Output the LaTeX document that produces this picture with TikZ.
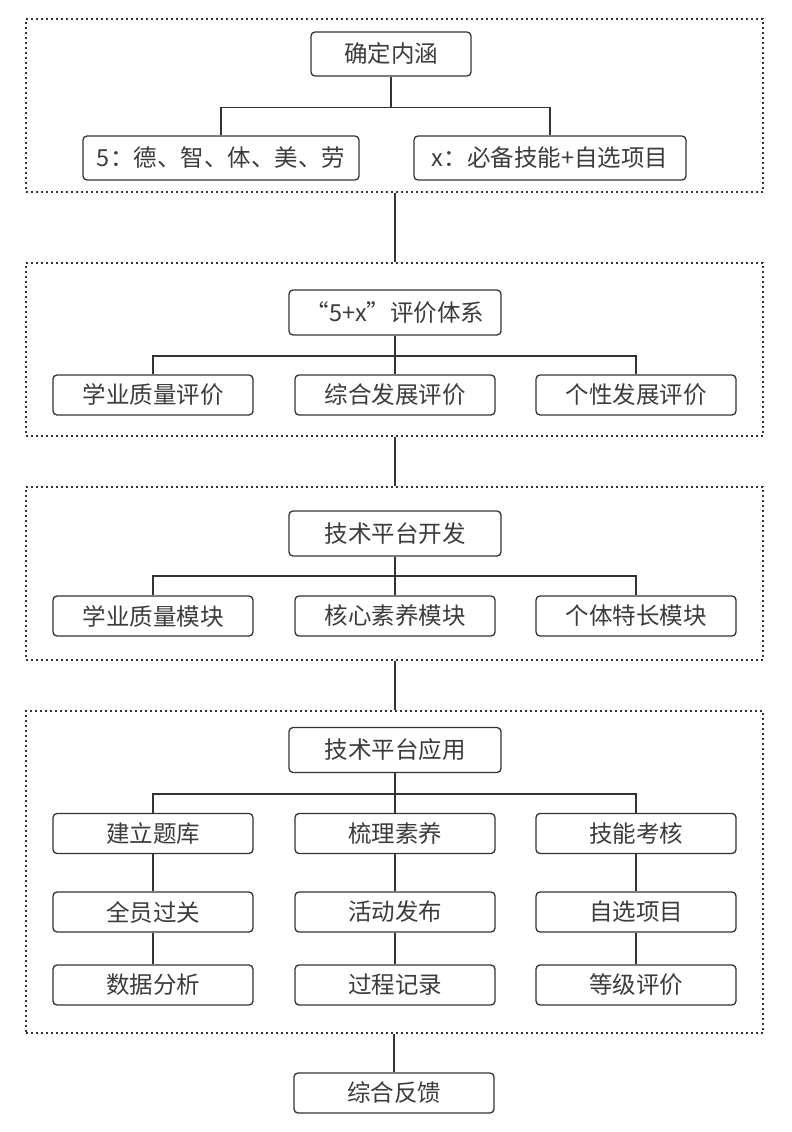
\documentclass[tikz,border=0pt]{standalone}
\usepackage{fontspec}
\newfontfamily\cjk{Noto Sans CJK SC}
\definecolor{ink}{HTML}{333333}
\definecolor{txt}{HTML}{3C3C3C}
\begin{document}
\begin{tikzpicture}[x=1pt,y=-1pt,
  box/.style={draw=ink,line width=1.3pt,rounded corners=4pt,fill=white,inner sep=0pt,
    minimum height=40pt,minimum width=200pt,font=\cjk\fontsize{23.5}{27}\selectfont,text=txt},
  head/.style={box,minimum width=212pt,minimum height=45pt},
  cont/.style={draw=ink,line width=1.7pt,dash pattern=on 1.8pt off 3.2pt,inner sep=0pt,minimum width=737pt},
  link/.style={draw=ink,line width=1.3pt}]
\useasboundingbox (0,0) rectangle (792,1132);
% containers
\node[cont,minimum height=173pt] (c1) at (394.5,105.5) {};
\node[cont,minimum height=173pt] (c2) at (394.5,349.5) {};
\node[cont,minimum height=173pt] (c3) at (394.5,573.5) {};
\node[cont,minimum height=322pt] (c4) at (394.5,872) {};
% container 1
\node[box,minimum width=160pt,minimum height=44pt] (h1) at (391,54) {确定内涵};
\node[box,minimum width=276pt,minimum height=44pt] (a1) at (221,158) {5：德、智、体、美、劳};
\node[box,minimum width=272pt,minimum height=44pt] (b1) at (550,158) {x：必备技能+自选项目};
\draw[link] (h1.south) -- ++(0,31) coordinate (j1);
\draw[link] (a1.north) |- (j1) -| (b1.north);
% container 2
\node[head] (h2) at (395,312.5) {“5+x”评价体系};
\node[box] (a2) at (153,395) {学业质量评价};
\node[box] (b2) at (395,395) {综合发展评价};
\node[box] (d2) at (636,395) {个性发展评价};
\draw[link] (h2.south) -- (b2.north);
\draw[link] (a2.north) |- (0,356 -| h2) -| (d2.north);
% container 3
\node[head] (h3) at (395,533.5) {技术平台开发};
\node[box] (a3) at (153,616) {学业质量模块};
\node[box] (b3) at (395,616) {核心素养模块};
\node[box] (d3) at (636,616) {个体特长模块};
\draw[link] (h3.south) -- (b3.north);
\draw[link] (a3.north) |- (0,576 -| h3) -| (d3.north);
% container 4
\node[head] (h4) at (395,750) {技术平台应用};
\node[box] (a4) at (153,833.5) {建立题库};
\node[box] (b4) at (395,833.5) {梳理素养};
\node[box] (d4) at (636,833.5) {技能考核};
\node[box] (a5) at (153,912) {全员过关};
\node[box] (b5) at (395,912) {活动发布};
\node[box] (d5) at (636,912) {自选项目};
\node[box] (a6) at (153,985) {数据分析};
\node[box] (b6) at (395,985) {过程记录};
\node[box] (d6) at (636,985) {等级评价};
\draw[link] (h4.south) -- (b4.north);
\draw[link] (a4.north) |- (0,794 -| h4) -| (d4.north);
\foreach \c in {a,b,d}{
  \draw[link] (\c4.south) -- (\c5.north);
  \draw[link] (\c5.south) -- (\c6.north);
}
% final
\node[box] (f) at (394,1093) {综合反馈};
% inter-container links
\draw[link] (c1.south -| h2) -- (c2.north -| h2);
\draw[link] (c2.south -| h2) -- (c3.north -| h2);
\draw[link] (c3.south -| h2) -- (c4.north -| h2);
\draw[link] (c4.south -| f) -- (f.north);
\end{tikzpicture}
\end{document}
